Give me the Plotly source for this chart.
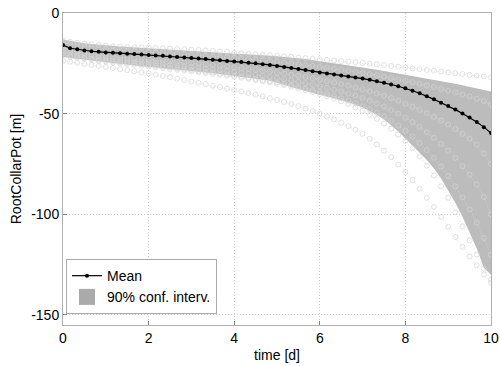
import plotly.graph_objects as go

# time grid: 61 samples from 0 to 10 d
time_d = [round(i / 6, 4) for i in range(61)]

mean_vals = [-15.9, -17.5, -18.0, -18.6, -19.0, -19.3, -19.6, -19.8, -20.0, -20.2,
             -20.4, -20.6, -20.9, -21.1, -21.3, -21.6, -21.8, -22.1, -22.4, -22.6,
             -22.9, -23.2, -23.5, -23.8, -24.1, -24.4, -24.7, -25.0, -25.4, -25.8,
             -26.3, -26.8, -27.3, -27.8, -28.3, -28.9, -29.5, -30.0, -30.5, -31.0,
             -31.5, -32.0, -32.6, -33.2, -33.9, -34.7, -35.5, -36.4, -37.4, -38.6,
             -39.9, -41.3, -42.9, -44.6, -46.2, -48.0, -49.9, -51.9, -54.1, -56.7,
             -59.6]

ci_upper = [-13.2, -13.9, -14.5, -15.0, -15.4, -15.8, -16.1, -16.4, -16.7, -16.9,
            -17.1, -17.3, -17.5, -17.7, -17.9, -18.2, -18.4, -18.6, -18.8, -19.0,
            -19.2, -19.4, -19.6, -19.8, -20.1, -20.3, -20.5, -20.7, -21.0, -21.2,
            -21.5, -21.8, -22.2, -22.5, -22.9, -23.4, -23.9, -24.4, -24.9, -25.4,
            -26.0, -26.5, -27.1, -27.6, -28.2, -28.8, -29.4, -30.0, -30.6, -31.2,
            -31.8, -32.5, -33.1, -33.8, -34.5, -35.2, -35.9, -36.6, -37.4, -38.2,
            -39.0]

ci_lower = [-21.7, -22.3, -22.8, -23.3, -23.8, -24.2, -24.6, -25.0, -25.4, -25.7,
            -26.0, -26.4, -26.7, -27.0, -27.4, -27.7, -28.1, -28.4, -28.8, -29.1,
            -29.5, -29.9, -30.3, -30.7, -31.1, -31.6, -32.1, -32.6, -33.1, -33.7,
            -34.5, -35.5, -36.6, -37.7, -38.7, -39.7, -40.7, -41.6, -42.4, -43.3,
            -44.4, -45.6, -47.0, -48.6, -50.6, -52.9, -55.8, -58.9, -62.3, -65.8,
            -69.4, -73.0, -77.2, -82.2, -88.0, -94.3, -101.2, -108.8, -117.0, -126.5,
            -130.0]

# individual realisations (light grey)
sample_low = [-23.7, -24.2, -24.7, -25.3, -25.8, -26.3, -26.8, -27.3, -27.9, -28.4,
              -28.9, -29.5, -30.0, -30.6, -31.3, -31.9, -32.6, -33.3, -34.0, -34.7,
              -35.4, -36.1, -36.8, -37.6, -38.3, -39.0, -39.8, -40.6, -41.4, -42.3,
              -43.2, -44.2, -45.2, -46.3, -47.5, -48.7, -50.0, -51.4, -52.9, -54.5,
              -56.2, -58.0, -60.0, -62.5, -65.3, -68.4, -71.6, -75.2, -79.0, -83.0,
              -87.3, -91.8, -96.4, -101.2, -106.2, -111.3, -116.2, -121.0, -125.4, -129.9,
              -134.0]
sample_edge = [-21.0, -21.6, -22.2, -22.7, -23.2, -23.7, -24.1, -24.6, -25.0, -25.4,
               -25.8, -26.2, -26.6, -27.0, -27.4, -27.8, -28.2, -28.6, -29.0, -29.4,
               -29.8, -30.3, -30.7, -31.2, -31.7, -32.2, -32.7, -33.3, -33.9, -34.5,
               -35.2, -35.9, -36.7, -37.5, -38.4, -39.3, -40.3, -41.4, -42.6, -43.9,
               -45.3, -46.9, -48.6, -50.5, -52.6, -54.9, -57.5, -60.4, -63.6, -67.2,
               -71.3, -75.8, -80.8, -86.1, -91.8, -99.0, -106.0, -113.0, -120.0, -127.0,
               -132.5]
sample_top = [-13.8, -14.3, -14.8, -15.2, -15.6, -15.9, -16.2, -16.5, -16.7, -16.9,
              -17.0, -17.1, -17.2, -17.4, -17.5, -17.7, -17.9, -18.0, -18.2, -18.4,
              -18.6, -18.8, -19.1, -19.3, -19.8, -20.0, -20.3, -20.5, -20.8, -21.0,
              -21.3, -21.5, -21.8, -22.1, -22.4, -22.7, -23.0, -23.3, -23.6, -23.9,
              -24.2, -24.5, -24.8, -25.2, -25.5, -25.9, -26.3, -26.7, -27.1, -27.5,
              -27.9, -28.3, -28.7, -29.1, -29.5, -29.9, -30.3, -30.7, -31.1, -31.5,
              -32.0]
sample_in1 = [-14.8, -15.6, -16.2, -16.7, -17.1, -17.5, -17.8, -18.1, -18.4, -18.7,
              -18.9, -19.2, -19.4, -19.6, -19.9, -20.1, -20.3, -20.6, -20.8, -21.1,
              -21.3, -21.6, -21.9, -22.1, -22.4, -22.7, -23.0, -23.3, -23.6, -24.0,
              -24.3, -24.7, -25.1, -25.5, -25.9, -26.3, -26.8, -27.2, -27.7, -28.2,
              -28.7, -29.3, -29.8, -30.4, -31.0, -31.6, -32.3, -33.0, -33.7, -34.4,
              -35.2, -36.0, -36.8, -37.7, -38.6, -39.5, -40.5, -41.5, -42.6, -43.8,
              -45.5]
sample_in2 = [-17.0, -18.4, -19.3, -19.9, -20.4, -20.8, -21.2, -21.6, -21.9, -22.2,
              -22.5, -22.8, -23.1, -23.4, -23.7, -24.0, -24.3, -24.6, -24.9, -25.2,
              -25.6, -25.9, -26.3, -26.6, -27.0, -27.4, -27.8, -28.2, -28.7, -29.1,
              -29.6, -30.1, -30.7, -31.2, -31.8, -32.4, -33.1, -33.8, -34.5, -35.3,
              -36.1, -37.0, -37.9, -38.9, -40.0, -41.1, -42.3, -43.6, -45.0, -46.5,
              -48.1, -49.8, -51.6, -53.5, -55.5, -57.7, -60.0, -62.5, -65.4, -69.8,
              -75.0]
sample_in3 = [-18.5, -19.8, -20.6, -21.2, -21.7, -22.1, -22.5, -22.9, -23.3, -23.6,
              -24.0, -24.3, -24.6, -25.0, -25.3, -25.7, -26.0, -26.4, -26.8, -27.2,
              -27.6, -28.0, -28.4, -28.8, -29.3, -29.7, -30.2, -30.7, -31.2, -31.8,
              -32.3, -32.9, -33.5, -34.2, -34.9, -35.6, -36.4, -37.2, -38.1, -39.0,
              -40.0, -41.1, -42.3, -43.6, -45.0, -46.5, -48.2, -50.0, -52.0, -54.2,
              -56.6, -59.2, -62.0, -65.1, -68.4, -72.0, -76.0, -80.4, -85.2, -91.5,
              -100.0]
sample_in4 = [-19.8, -21.0, -21.7, -22.3, -22.8, -23.2, -23.6, -24.0, -24.4, -24.8,
              -25.1, -25.5, -25.9, -26.3, -26.7, -27.1, -27.5, -27.9, -28.3, -28.7,
              -29.2, -29.6, -30.1, -30.6, -31.1, -31.6, -32.1, -32.7, -33.3, -33.9,
              -34.5, -35.2, -35.9, -36.7, -37.5, -38.4, -39.3, -40.3, -41.3, -42.4,
              -43.6, -44.9, -46.3, -47.9, -49.6, -51.5, -53.6, -55.9, -58.5, -61.4,
              -64.6, -68.1, -72.0, -76.3, -81.0, -86.1, -91.6, -97.6, -104.2, -111.8,
              -120.0]

samples = [sample_low, sample_edge, sample_top, sample_in1, sample_in2, sample_in3, sample_in4]

x_ticks = [0, 2, 4, 6, 8, 10]
y_ticks = [0, -50, -100, -150]

fig = go.Figure()

# 90% confidence band (legend shown through a square swatch trace)
fig.add_trace(go.Scatter(
    x=time_d + time_d[::-1],
    y=ci_upper + ci_lower[::-1],
    fill="toself", fillcolor="rgb(188,188,188)",
    line=dict(width=0, color="rgb(188,188,188)"),
    mode="lines", showlegend=False, hoverinfo="skip",
))

for s in samples:
    fig.add_trace(go.Scatter(
        x=time_d, y=s, mode="lines+markers",
        line=dict(color="rgb(218,218,218)", width=0.7, dash="1px,2px"),
        marker=dict(symbol="circle-open", size=5, color="rgb(212,212,212)",
                    line=dict(width=0.7)),
        showlegend=False, hoverinfo="skip",
    ))

fig.add_trace(go.Scatter(
    x=time_d, y=mean_vals, mode="lines+markers", name="Mean",
    line=dict(color="black", width=1.2),
    marker=dict(symbol="circle", size=4, color="black"),
    legendrank=1,
))

fig.add_trace(go.Scatter(
    x=[None], y=[None], mode="markers", name="90% conf. interv.",
    marker=dict(symbol="square", size=16, color="rgb(170,170,170)"),
    legendrank=2,
))

font_family = "Liberation Sans, Arial, sans-serif"
grid_col = "rgb(205,205,205)"
axis_common = dict(
    showgrid=True, gridcolor=grid_col, griddash="1px,2px", gridwidth=1,
    showline=True, linecolor="rgb(175,175,175)", linewidth=1, mirror=True,
    ticks="inside", ticklen=4, tickcolor="rgb(130,130,130)",
    zeroline=False, automargin=False,
)
fig.update_layout(
    width=500, height=366,
    margin=dict(l=63, r=9, t=13, b=41),
    paper_bgcolor="white", plot_bgcolor="white",
    font=dict(family=font_family, size=14, color="black"),
    showlegend=True,
    legend=dict(x=0.007, y=0.035, xanchor="left", yanchor="bottom",
                bgcolor="white", bordercolor="rgb(170,170,170)", borderwidth=1,
                font=dict(size=14), tracegroupgap=0, itemwidth=30,
                itemsizing="trace"),
    xaxis=dict(range=[0, 10], tickvals=x_ticks, ticktext=[str(v) for v in x_ticks],
               title=dict(text="time [d]", font=dict(size=14), standoff=5),
               **axis_common),
    yaxis=dict(range=[-155, 0], tickvals=y_ticks, ticktext=[str(v) for v in y_ticks],
               title=dict(text="RootCollarPot [m]", font=dict(size=14), standoff=6),
               **axis_common),
)

fig.write_html("out.html")
